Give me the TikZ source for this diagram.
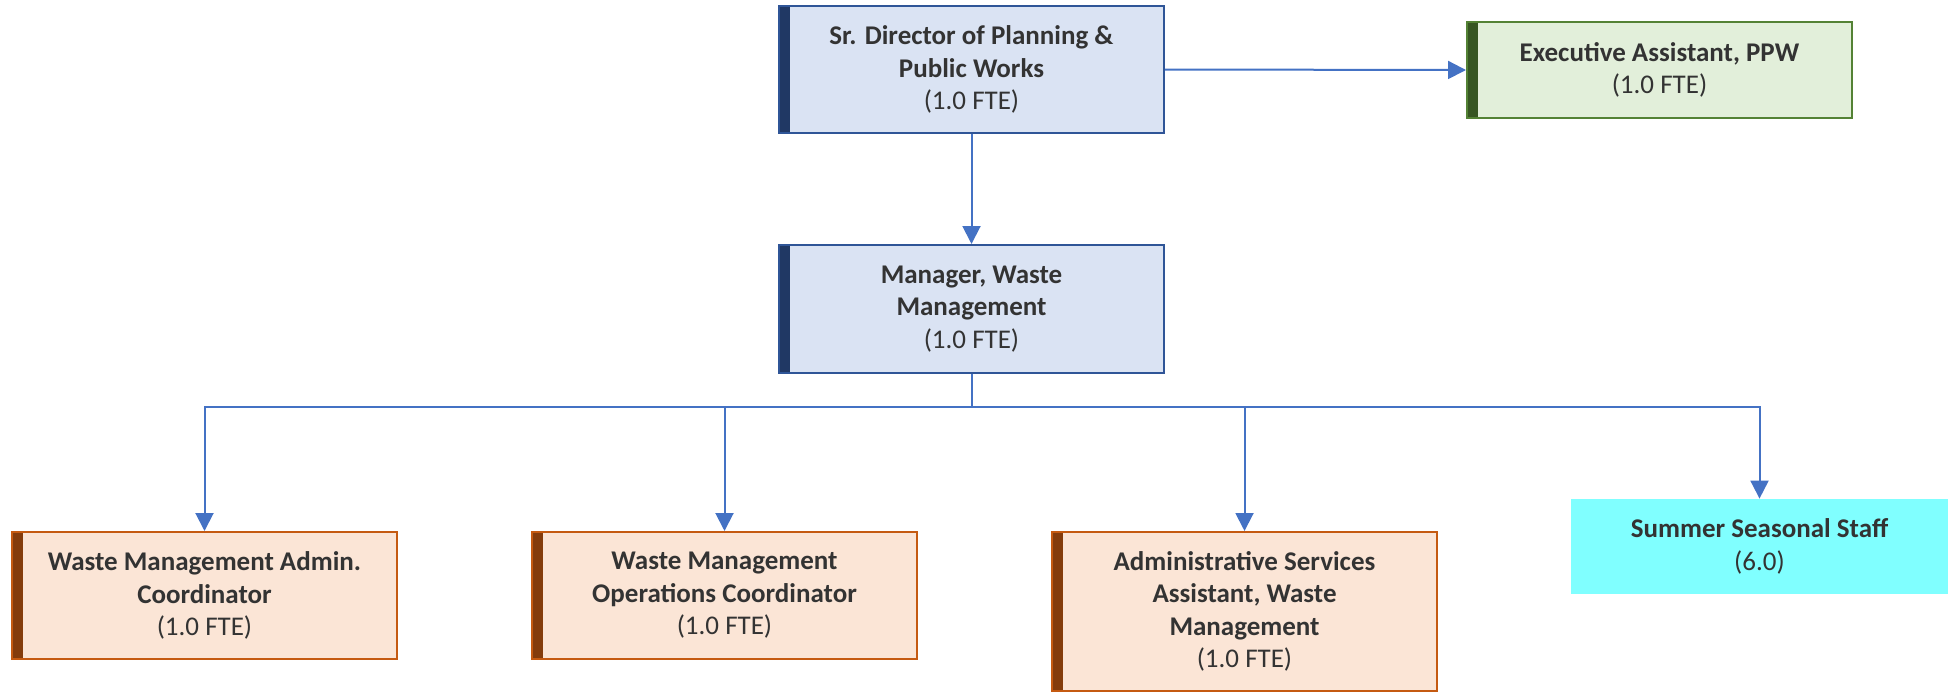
\documentclass[tikz,border=0pt]{standalone}
\usepackage{fontspec}
\setmainfont{Carlito}
\usetikzlibrary{positioning,arrows.meta}

\definecolor{bluefill}{HTML}{DAE3F3}
\definecolor{blueline}{HTML}{2F5597}
\definecolor{bluebar}{HTML}{203864}
\definecolor{greenfill}{HTML}{E2EFDA}
\definecolor{greenline}{HTML}{548235}
\definecolor{greenbar}{HTML}{375623}
\definecolor{orangefill}{HTML}{FBE5D6}
\definecolor{orangeline}{HTML}{C55A11}
\definecolor{orangebar}{HTML}{843C0C}
\definecolor{seasonfill}{HTML}{80FFFF}
\definecolor{linkblue}{HTML}{4472C4}
\definecolor{textgray}{HTML}{333333}

\begin{document}
\begin{tikzpicture}[x=0.5pt,y=-0.5pt,
    font=\fontsize{13.5}{16.25}\selectfont,
    box/.style={rectangle, draw=#1line, fill=#1fill, line width=1pt,
      minimum width=192.5pt, inner sep=0pt, align=center, text=textgray,
      path picture={\fill[#1bar] (path picture bounding box.north west)
        rectangle ([xshift=5.5pt]path picture bounding box.south west);}},
    seasonbox/.style={rectangle, fill=seasonfill, minimum width=188.5pt,
      minimum height=47.5pt, inner sep=0pt, align=center, text=textgray},
    link/.style={linkblue, line width=1pt},
    arrow/.style={link, -{Triangle[width=9pt,length=9pt]}}]
      \useasboundingbox (0,0) rectangle (1948,691);
      \draw (971.5,69.5) node[box=blue, minimum height=63.5pt] (director)
        {\textbf{Sr. Director of Planning \&}\\\textbf{Public Works}\\(1.0 FTE)};
      \draw (1659.5,70) node[box=green, minimum height=48pt] (execasst)
        {\textbf{Executive Assistant, PPW}\\(1.0 FTE)};
      \draw (971.5,309) node[box=blue, minimum height=64pt] (manager)
        {\textbf{Manager, Waste}\\\textbf{Management}\\(1.0 FTE)};
      \draw (204.5,531) node[box=orange, anchor=north, minimum height=63.5pt] (admincoord)
        {\textbf{Waste Management Admin.}\\\textbf{Coordinator}\\(1.0 FTE)};
      \draw (724.5,531) node[box=orange, anchor=north, minimum height=63.5pt] (opscoord)
        {\textbf{Waste Management}\\\textbf{Operations Coordinator}\\(1.0 FTE)};
      \draw (1244.5,531) node[box=orange, anchor=north, minimum height=79.5pt] (adminasst)
        {\textbf{Administrative Services}\\\textbf{Assistant, Waste}\\\textbf{Management}\\(1.0 FTE)};
      \draw (1759.5,546.5) node[seasonbox] (seasonal)
        {\textbf{Summer Seasonal Staff}\\(6.0)};
      \coordinate (bus) at (971.5,407);
      \draw[arrow] (director.east) to (execasst.west);
      \draw[arrow] (director.south) to (manager.north);
      \draw[link] (manager.south) to (bus);
      \draw[arrow] (bus) -| (admincoord.north);
      \draw[arrow] (bus) -| (opscoord.north);
      \draw[arrow] (bus) -| (adminasst.north);
      \draw[arrow] (bus) -| (seasonal.north);
      \end{tikzpicture}
\end{document}
